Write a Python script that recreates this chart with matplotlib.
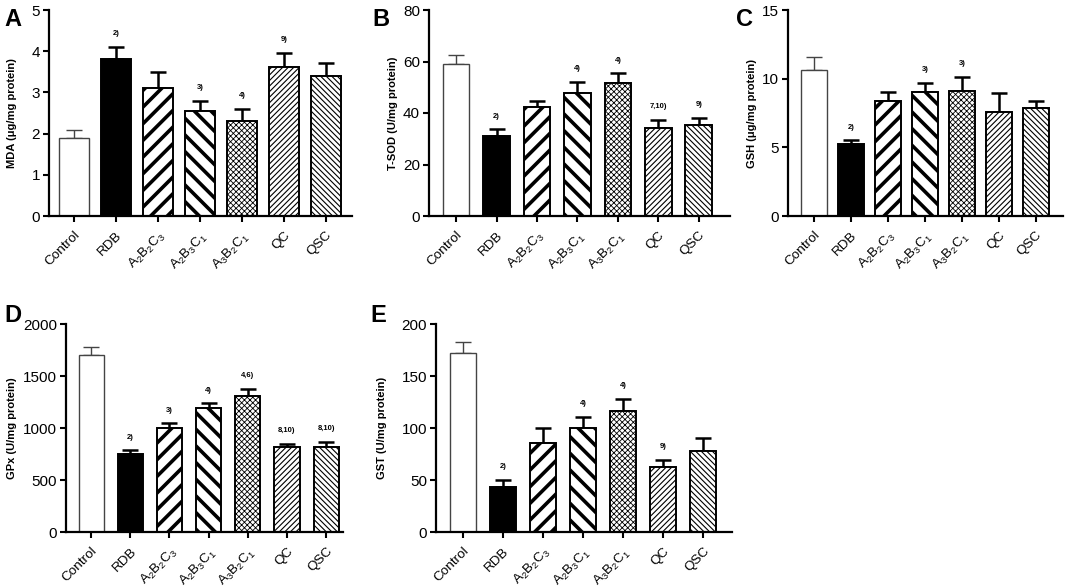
import matplotlib
matplotlib.use("Agg")
import matplotlib.pyplot as plt
import numpy as np

plt.rcParams['font.family'] = ['Liberation Sans', 'DejaVu Sans']
plt.rcParams['mathtext.fontset'] = 'custom'
plt.rcParams['mathtext.rm'] = 'Liberation Sans'
plt.rcParams['mathtext.it'] = 'Liberation Sans:italic'
plt.rcParams['mathtext.bf'] = 'Liberation Sans:bold'

# ---------------- data ----------------
groups = ['Control', 'RDB', r'A$_2$B$_2$C$_3$', r'A$_2$B$_3$C$_1$', r'A$_3$B$_2$C$_1$', 'QC', 'QSC']

mda_mean = [1.89, 3.81, 3.11, 2.55, 2.30, 3.62, 3.41]
mda_top = [2.09, 4.11, 3.50, 2.79, 2.60, 3.96, 3.72]
mda_note = ['', '2)', '', '3)', '4)', '9)', '']

sod_mean = [59.2, 31.1, 42.2, 47.8, 51.6, 34.0, 35.3]
sod_top = [62.4, 33.7, 44.6, 52.2, 55.4, 37.3, 38.1]
sod_note = ['', '2)', '', '4)', '4)', '7,10)', '9)']

gsh_mean = [10.66, 5.23, 8.39, 9.02, 9.11, 7.55, 7.89]
gsh_top = [11.57, 5.50, 9.04, 9.69, 10.13, 8.92, 8.37]
gsh_note = ['', '2)', '', '3)', '3)', '', '']

gpx_mean = [1704, 752, 997, 1188, 1305, 813, 817]
gpx_top = [1781, 785, 1045, 1238, 1376, 846, 868]
gpx_note = ['', '2)', '3)', '4)', '4,6)', '8,10)', '8,10)']

gst_mean = [172, 43, 85.9, 99.7, 116.4, 62.7, 78.1]
gst_top = [182.6, 49.8, 100.3, 110.9, 128.3, 69.1, 90.4]
gst_note = ['', '2)', '', '4)', '4)', '9)', '']

ylabels = ['MDA (μg/mg protein)', 'T-SOD (U/mg protein)', 'GSH (μg/mg protein)',
           'GPx (U/mg protein)', 'GST (U/mg protein)']
letters = ['A', 'B', 'C', 'D', 'E']
yticks = [[0, 1, 2, 3, 4, 5], [0, 20, 40, 60, 80], [0, 5, 10, 15],
          [0, 500, 1000, 1500, 2000], [0, 50, 100, 150, 200]]

# ---------------- styles ----------------
faces = ['white', 'black', 'white', 'white', 'white', 'white', 'white']
hatches = ['', '', '//', '\\\\', 'xxxxxx', '//////', '\\\\\\\\\\\\']
hatch_lw = [0.8, 0.8, 2.6, 2.6, 0.6, 0.8, 0.8]

W, H = 1065, 588
fig = plt.figure(figsize=(W / 100, H / 100), dpi=100)

# pixel layout: left, right, top, bottom, xlim
panels = [
    (49, 352, 10, 216, (-0.6, 6.62)),
    (429, 730, 10, 216, (-0.67, 6.77)),
    (788, 1063, 10, 216, (-0.70, 6.73)),
    (66, 343, 324, 532, (-0.64, 6.43)),
    (436, 732, 324, 532, (-0.675, 6.725)),
]
widths = [0.71, 0.66, 0.69, 0.64, 0.67]
ylab_x = [12, 393, 752, 12, 382]
letter_pos = [(4, 20), (372, 20), (736, 20), (4, 316), (370, 316)]

data = [(mda_mean, mda_top, mda_note), (sod_mean, sod_top, sod_note),
        (gsh_mean, gsh_top, gsh_note), (gpx_mean, gpx_top, gpx_note),
        (gst_mean, gst_top, gst_note)]

x = np.arange(len(groups))
for i, (l, r, t, b, xl) in enumerate(panels):
    ax = fig.add_axes([l / W, 1 - b / H, (r - l) / W, (b - t) / H])
    mean, top, note = data[i]
    mean = np.array(mean, float)
    top = np.array(top, float)
    for j in range(len(groups)):
        with plt.rc_context({'hatch.linewidth': hatch_lw[j]}):
            lw_edge = 1.0 if j == 0 else 1.4
            ec = '#444444' if j == 0 else 'black'
            err_lw = 1.0 if j == 0 else 1.8
            bars = ax.bar(x[j], mean[j], width=widths[i], color=faces[j],
                          edgecolor=ec, linewidth=lw_edge, hatch=hatches[j],
                          zorder=2)
            for p in bars:
                if hasattr(p, 'set_hatch_linewidth'):
                    p.set_hatch_linewidth(hatch_lw[j])
            ax.errorbar(x[j], mean[j], yerr=[[0], [top[j] - mean[j]]],
                        fmt='none', ecolor=ec, elinewidth=err_lw,
                        capsize=6, capthick=err_lw, zorder=1)
        if note[j]:
            ax.annotate(note[j], (x[j], top[j]), xytext=(0, 7),
                        textcoords='offset points', ha='center', va='bottom',
                        fontsize=5.5, fontweight='bold')
    ax.set_xlim(*xl)
    ax.set_ylim(yticks[i][0], yticks[i][-1])
    ax.set_yticks(yticks[i])
    ax.set_xticks(x)
    ax.set_xticklabels(groups, rotation=45, ha='right', rotation_mode='anchor',
                       fontsize=9.7)
    ax.tick_params(axis='both', direction='out', length=4.5, width=1.5,
                   labelsize=11, pad=2)
    ax.tick_params(axis='x', pad=5, labelsize=9.7)
    for s in ['top', 'right']:
        ax.spines[s].set_visible(False)
    for s in ['left', 'bottom']:
        ax.spines[s].set_linewidth(1.6)
    fig.text(ylab_x[i] / W, 1 - ((t + b) / 2) / H, ylabels[i], rotation=90,
             ha='center', va='center', fontsize=8, fontweight='bold')
    lx, ly = letter_pos[i]
    fig.text(lx / W, 1 - ly / H, letters[i], fontsize=17, fontweight='bold',
             ha='left', va='center')

fig.savefig('out.png', dpi=100)
